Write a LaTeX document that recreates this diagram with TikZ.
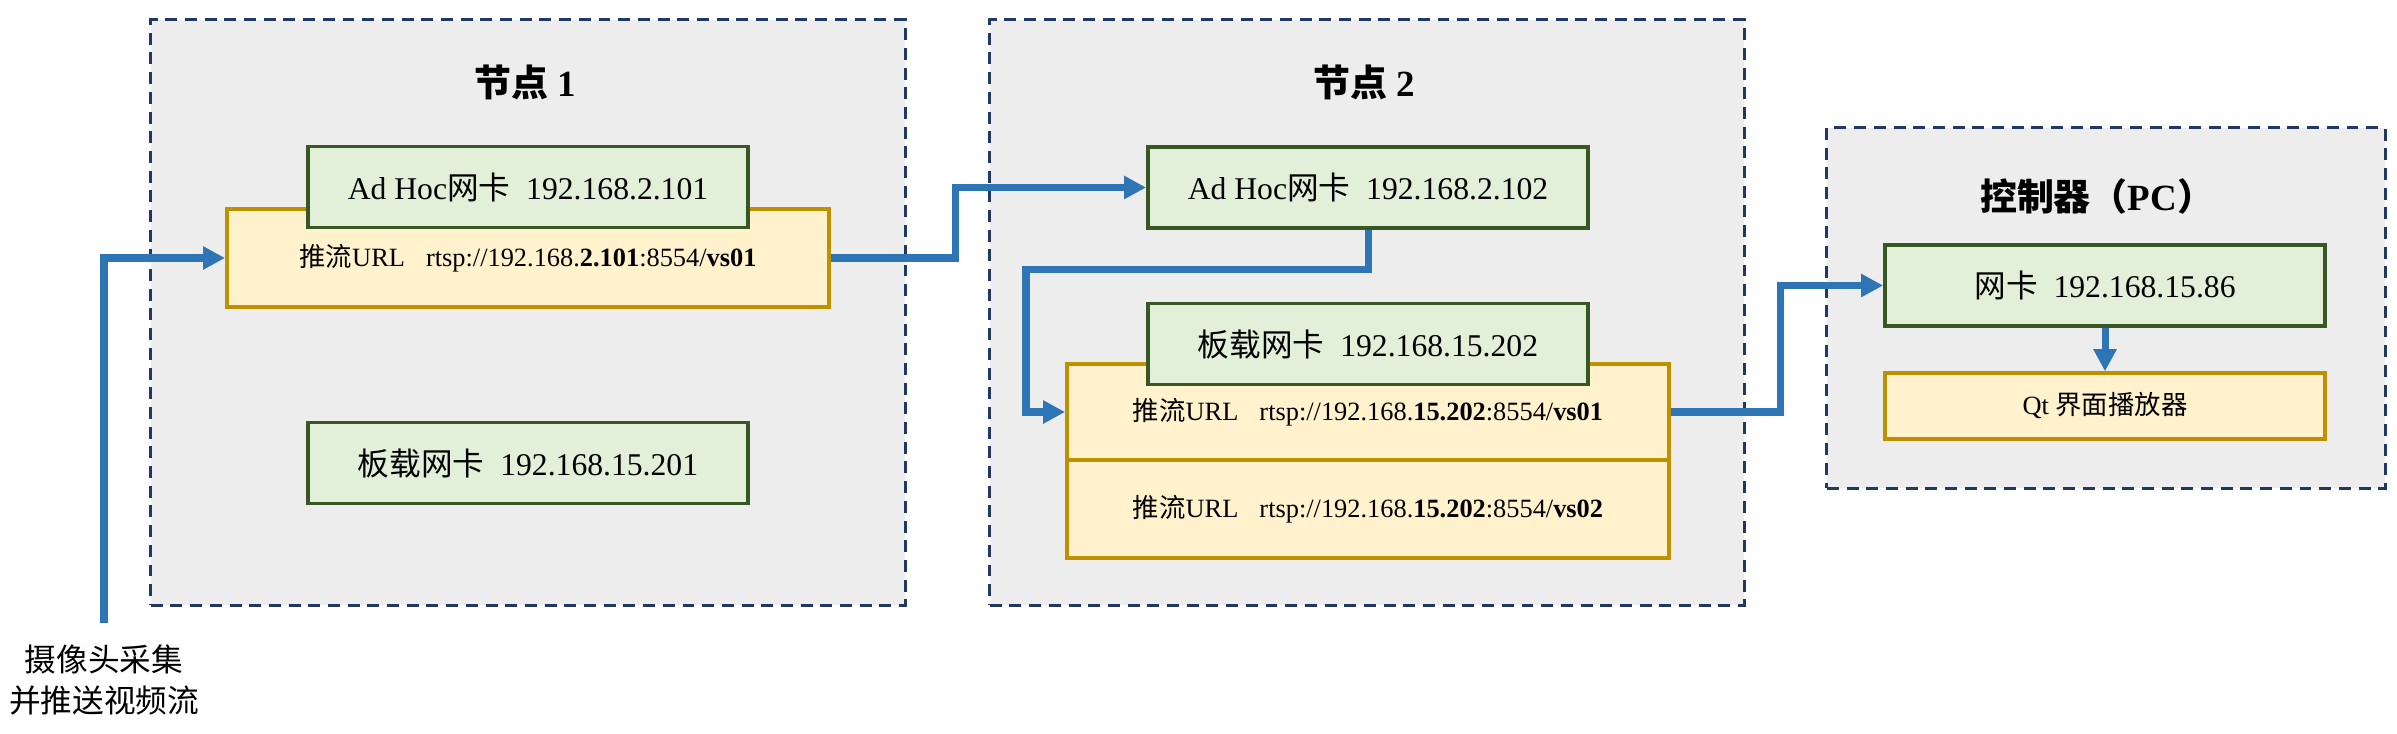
\documentclass[tikz,border=0pt]{standalone}
\usepackage{fontspec}
\setmainfont{Liberation Serif}
\newfontfamily\cjk{Noto Sans CJK SC}
\usetikzlibrary{arrows.meta}
\definecolor{nodegray}{HTML}{EDEDED}
\definecolor{nodeedge}{HTML}{203864}
\definecolor{nicfill}{HTML}{E2F0D9}
\definecolor{nicedge}{HTML}{385723}
\definecolor{urlfill}{HTML}{FFF2CC}
\definecolor{urledge}{HTML}{BF9000}
\definecolor{flowblue}{HTML}{2E75B6}
\newcommand{\zh}[1]{{\cjk #1}}

\begin{document}
\begin{tikzpicture}[x=0.01cm, y=-0.01cm,
    container/.style={draw=nodeedge, fill=nodegray, line width=0.9pt, dash pattern=on 3.4pt off 2.2pt, inner sep=0pt},
    nic/.style={draw=nicedge, fill=nicfill, line width=1pt, minimum width=4.4cm, minimum height=0.81cm, inner sep=0pt, font=\fontsize{9}{11}\selectfont},
    url/.style={draw=urledge, fill=urlfill, line width=1pt, minimum width=6.02cm, inner sep=0pt, font=\fontsize{7.5}{9}\selectfont},
    title/.style={font=\fontsize{10.5}{12}\selectfont\bfseries},
    flow/.style={draw=flowblue, line width=2pt, -{Triangle[length=0.22cm, width=0.22cm]}}]
      % \draw[very thin, gray] (0,0) grid (2397,733);
      \useasboundingbox (0,0) rectangle (2397,733);

      \node[container, minimum width=7.54cm, minimum height=5.85cm] (box1) at (528,312.5) {};
      \node[title] (t1) at (525,82) {\zh{节点} 1};
      \node[url, minimum height=0.98cm] (url1) at (528,258) {\zh{推流}URL\hspace{0.8em}rtsp://192.168.\textbf{2.101}:8554/\textbf{vs01}};
      \node[nic] (adhoc1) at (528,187) {Ad Hoc\zh{网卡}\enspace 192.168.2.101};
      \node[nic] (board1) at (528,463) {\zh{板载网卡}\enspace 192.168.15.201};

      \node[container, minimum width=7.54cm, minimum height=5.85cm] (box2) at (1367,312.5) {};
      \node[title] (t2) at (1364,82) {\zh{节点} 2};
      \node[nic] (adhoc2) at (1368,187.5) {Ad Hoc\zh{网卡}\enspace 192.168.2.102};
      \node[url, minimum height=0.96cm] (url2a) at (1368,412) {\zh{推流}URL\hspace{0.8em}rtsp://192.168.\textbf{15.202}:8554/\textbf{vs01}};
      \node[url, minimum height=0.98cm] (url2b) at (1368,509) {\zh{推流}URL\hspace{0.8em}rtsp://192.168.\textbf{15.202}:8554/\textbf{vs02}};
      \node[nic] (board2) at (1368,344) {\zh{板载网卡}\enspace 192.168.15.202};

      \node[container, minimum width=5.58cm, minimum height=3.6cm] (box3) at (2106,308) {};
      \node[title] (t3) at (2097,196) {\zh{控制器（}PC\zh{）}};
      \node[nic] (nic3) at (2105,285.5) {\zh{网卡}\enspace 192.168.15.86};
      \node[url, minimum width=4.4cm, minimum height=0.66cm] (qt) at (2105,406) {Qt \zh{界面播放器}};

      \node[font=\fontsize{9}{11.4}\selectfont, align=center] (cam) at (104,680) {\zh{摄像头采集}\\\zh{并推送视频流}};

      \draw[flow] ([yshift=0.1cm]cam.north) |- (url1.west);
      \draw[flow] (url1.east) -- ++(125,0) |- (adhoc2.west);
      \draw[flow] (adhoc2.south) |- ++(-342,40) |- (url2a.west);
      \draw[flow] (url2a.east) -- ++(110,0) |- (nic3.west);
      \draw[flow] (nic3.south) -- (qt.north);
    \end{tikzpicture}
\end{document}
